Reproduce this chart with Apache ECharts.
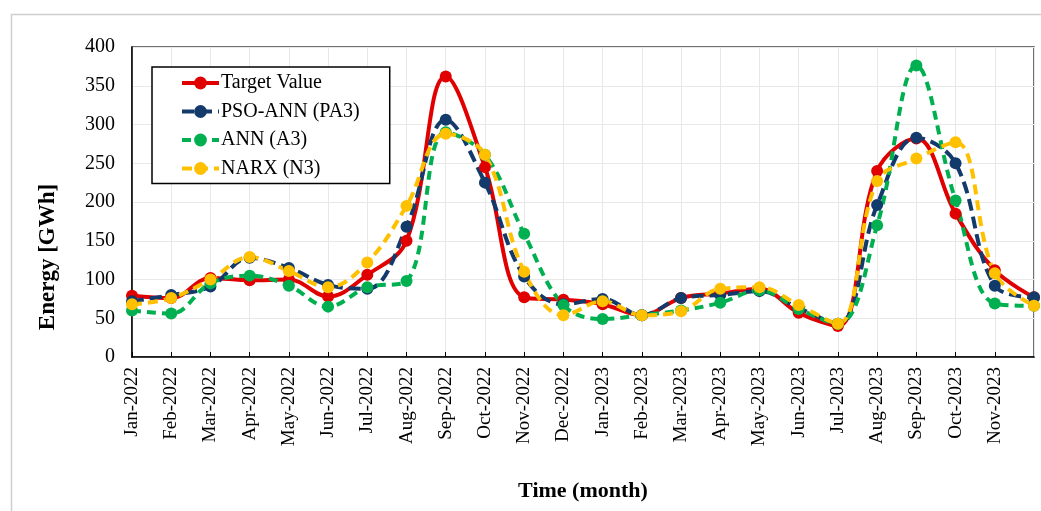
<!DOCTYPE html>
<html>
<head>
<meta charset="utf-8">
<script src="https://cdn.jsdelivr.net/npm/echarts@6/dist/echarts.min.js"></script>
<style>
  html, body { margin: 0; padding: 0; background: #fff; }
  #chart { width: 1041px; height: 511px; }
</style>
</head>
<body>
<div id="chart"></div>
<script>
  // months shown on the x axis (last one has no printed label)
  const months = [
    'Jan-2022', 'Feb-2022', 'Mar-2022', 'Apr-2022', 'May-2022', 'Jun-2022',
    'Jul-2022', 'Aug-2022', 'Sep-2022', 'Oct-2022', 'Nov-2022', 'Dec-2022',
    'Jan-2023', 'Feb-2023', 'Mar-2023', 'Apr-2023', 'May-2023', 'Jun-2023',
    'Jul-2023', 'Aug-2023', 'Sep-2023', 'Oct-2023', 'Nov-2023', 'Dec-2023'
  ];
  const targetValue = [79, 76, 102, 99, 100, 78, 106, 150, 362, 245, 77, 74,
                       68, 54, 76, 82, 88, 57, 40, 240, 282, 185, 112, 77];
  const psoAnn = [72, 80, 91, 128, 115, 93, 88, 168, 306, 225, 104, 68,
                  75, 54, 76, 80, 85, 63, 43, 196, 283, 250, 92, 77];
  const ann = [60, 56, 95, 105, 92, 65, 90, 98, 290, 261, 159, 67,
               49, 54, 60, 70, 86, 62, 43, 170, 376, 202, 69, 66];
  const narx = [68, 76, 100, 129, 111, 90, 122, 195, 288, 261, 110, 54,
                72, 54, 59, 88, 90, 67, 43, 227, 256, 277, 108, 66];
  const yTicks = [0, 50, 100, 150, 200, 250, 300, 350, 400];

  const FONT = '"Liberation Serif", "Times New Roman", serif';

  function lineSeries(name, data, color, dash, width) {
    return {
      name: name,
      type: 'line',
      data: data,
      smooth: 0.38,
      symbol: 'circle',
      symbolSize: 12,
      itemStyle: { color: color },
      lineStyle: { color: color, width: width, type: dash },
      emphasis: { disabled: true },
      animation: false
    };
  }

  const myChart = echarts.init(document.getElementById('chart'));
  const option = {
    backgroundColor: '#fff',
    textStyle: { fontFamily: FONT, color: '#000' },
    grid: {
      left: 132,
      right: 7,
      top: 47,
      bottom: 154,
      outerBoundsMode: 'none',
      containLabel: false,
      show: true,
      borderColor: '#404040',
      borderWidth: 1.5
    },
    legend: {
      orient: 'vertical',
      left: 152,
      top: 67,
      padding: [6, 30, 5, 28],
      itemWidth: 37,
      itemHeight: 16,
      itemGap: 8.5,
      backgroundColor: '#fff',
      borderColor: '#000',
      borderWidth: 1.5,
      borderRadius: 0,
      lineStyle: { width: 4 },
      textStyle: { fontFamily: FONT, fontSize: 20, color: '#000', padding: [0, 0, 0, -3] },
      data: ['Target Value', 'PSO-ANN (PA3)', 'ANN (A3)', 'NARX (N3)']
    },
    xAxis: {
      type: 'category',
      data: months,
      boundaryGap: false,
      name: 'Time (month)',
      nameLocation: 'middle',
      nameGap: 123,
      nameTextStyle: { fontFamily: FONT, fontSize: 22, fontWeight: 'bold', color: '#000' },
      axisLine: { show: true, lineStyle: { color: '#000', width: 1.5 } },
      axisTick: { show: true, inside: true, length: 5, lineStyle: { color: '#000' } },
      axisLabel: {
        rotate: 90,
        fontFamily: FONT,
        fontSize: 19,
        color: '#000',
        margin: 10,
        interval: function (i) { return i < months.length - 1; }
      },
      splitLine: { show: true, interval: 0, lineStyle: { color: '#e8e8e8', width: 1 } }
    },
    yAxis: {
      type: 'value',
      min: yTicks[0],
      max: yTicks[yTicks.length - 1],
      interval: yTicks[1] - yTicks[0],
      axisLine: { show: true, lineStyle: { color: '#000', width: 1.5 } },
      axisTick: { show: false },
      axisLabel: { fontFamily: FONT, fontSize: 20, color: '#000', margin: 17 },
      splitLine: { show: true, lineStyle: { color: '#e8e8e8', width: 1 } }
    },
    graphic: [
      {
        type: 'rect',
        left: 9,
        top: 12,
        shape: { width: 1040, height: 510 },
        style: { fill: 'none', stroke: '#cfcfcf', lineWidth: 1.5 },
        silent: true,
        z: -10
      },
      {
        type: 'text',
        x: 48,
        y: 257,
        rotation: Math.PI / 2,
        style: {
          text: 'Energy [GWh]',
          font: 'bold 23px ' + FONT,
          fill: '#000',
          align: 'center',
          verticalAlign: 'middle'
        }
      }
    ],
    series: [
      lineSeries('Target Value', targetValue, '#e00000', 'solid', 4),
      lineSeries('PSO-ANN (PA3)', psoAnn, '#123a6b', [12, 6], 4),
      lineSeries('ANN (A3)', ann, '#00b050', [9, 6], 4),
      lineSeries('NARX (N3)', narx, '#ffc000', [10, 6], 4)
    ]
  };
  option && myChart.setOption(option);
</script>
</body>
</html>
